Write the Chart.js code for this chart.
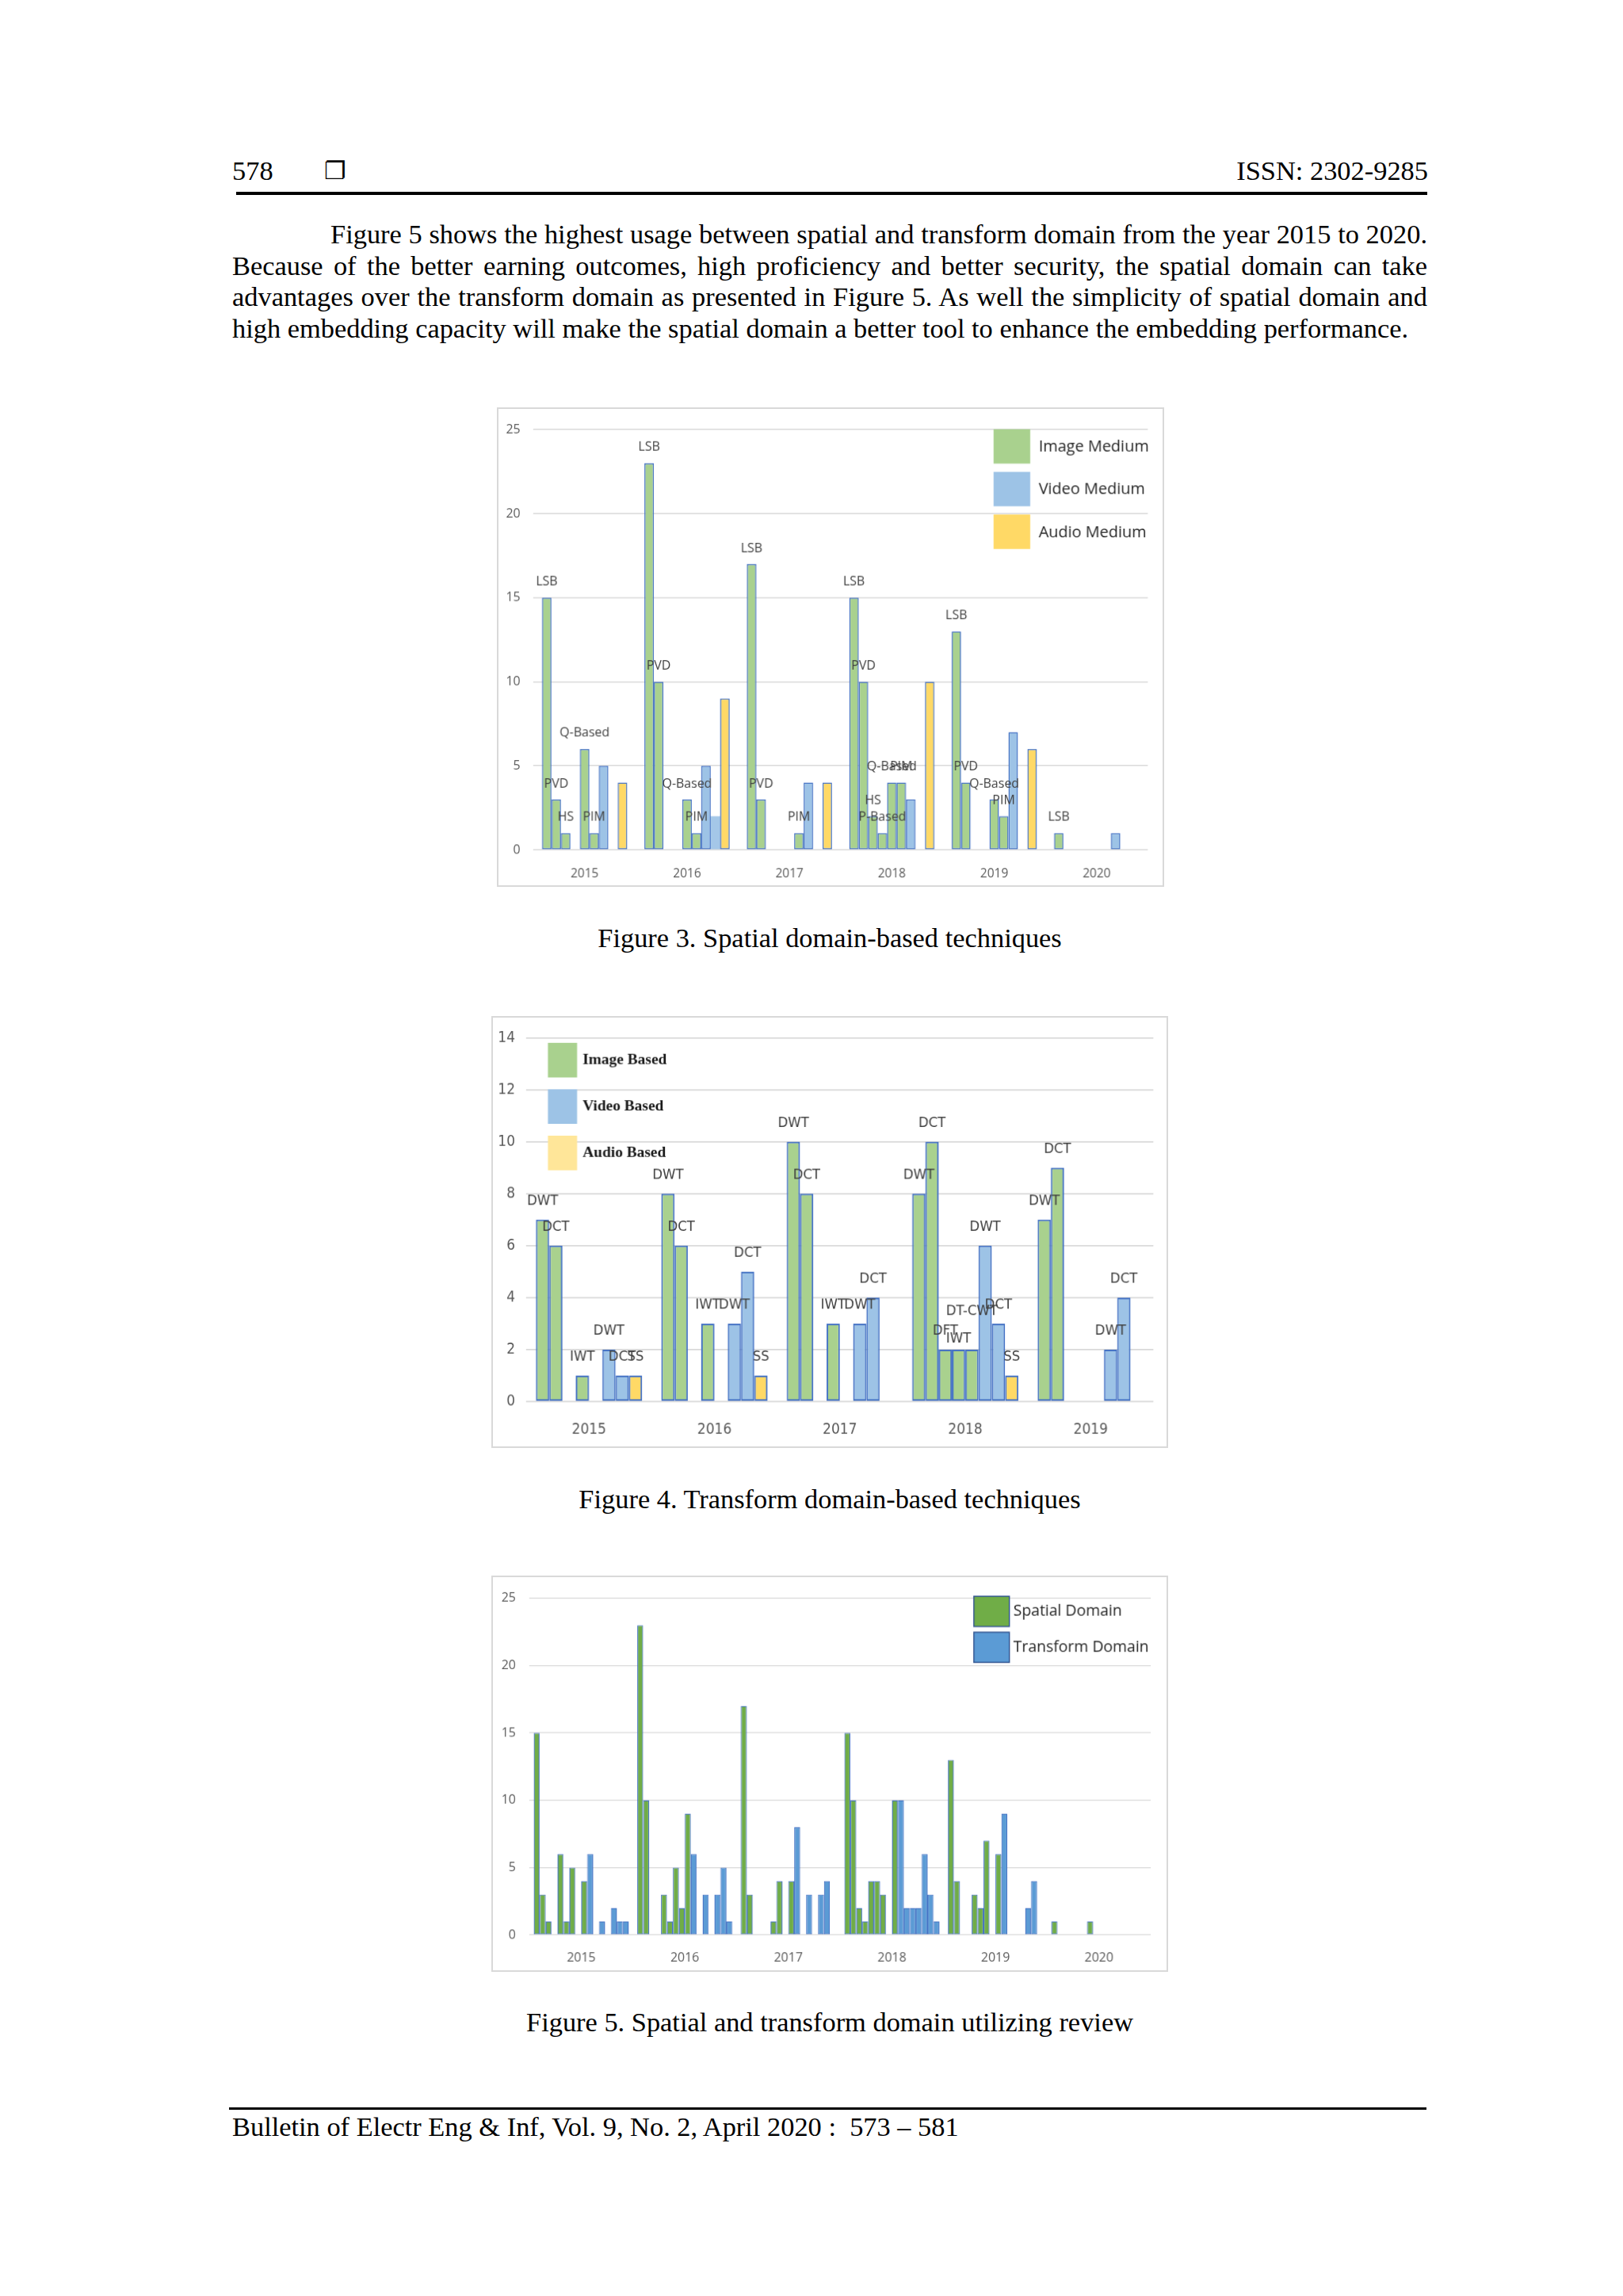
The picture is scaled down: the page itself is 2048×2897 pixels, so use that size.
<!DOCTYPE html>
<html>
<head>
<meta charset="utf-8">
<script src="https://cdn.jsdelivr.net/npm/chart.js@4.4.1/dist/chart.umd.min.js"></script>
<style>
html,body{margin:0;padding:0;background:#fff;}
body{width:2048px;height:2897px;position:relative;overflow:hidden;}
.t{position:absolute;font-family:'Liberation Serif','Times New Roman',serif;font-size:34.4px;line-height:34.4px;white-space:nowrap;color:#000;}
.j{text-align:justify;text-align-last:justify;}
.c{text-align:center;}
.rule{position:absolute;background:#000;}
canvas.fig{position:absolute;border:2px solid #d9d9d9;}
</style>
</head>
<body>
<div class="t" style="left:293px;top:198px;">578</div>
<div class="t" style="left:409px;top:200px;font-family:'DejaVu Sans',sans-serif;font-size:31px;line-height:31px;font-weight:bold;">❐</div>
<div class="t" style="right:246px;top:198px;text-align:right;">ISSN: 2302-9285</div>
<div class="rule" style="left:298px;top:242px;width:1503px;height:4px;"></div>

<div class="t j" style="left:417px;top:278px;width:1384px;">Figure 5 shows the highest usage between spatial and transform domain from the year 2015 to 2020.</div>
<div class="t j" style="left:293px;top:318px;width:1508px;">Because of the better earning outcomes, high proficiency and better security, the spatial domain can take</div>
<div class="t j" style="left:293px;top:357px;width:1508px;">advantages over the transform domain as presented in Figure 5. As well the simplicity of spatial domain and</div>
<div class="t" style="left:293px;top:397px;">high embedding capacity will make the spatial domain a better tool to enhance the embedding performance.</div>

<canvas id="fig3" class="fig" width="842" height="605" style="left:627px;top:514px;"></canvas>
<div class="t c" style="left:293px;top:1166px;width:1508px;">Figure 3. Spatial domain-based techniques</div>

<canvas id="fig4" class="fig" width="854" height="545" style="left:620px;top:1282px;"></canvas>
<div class="t c" style="left:293px;top:1874px;width:1508px;">Figure 4. Transform domain-based techniques</div>

<canvas id="fig5" class="fig" width="854" height="500" style="left:620px;top:1988px;"></canvas>
<div class="t c" style="left:293px;top:2534px;width:1508px;">Figure 5. Spatial and transform domain utilizing review</div>

<div class="rule" style="left:289px;top:2659px;width:1511px;height:3px;"></div>
<div class="t" style="left:293px;top:2666px;white-space:pre;">Bulletin of Electr Eng &amp; Inf, Vol. 9, No. 2, April 2020 :  573 – 581</div>

<script>
// ---------------- Figure 3 data ----------------
const fig3Years  = ['2015', '2016', '2017', '2018', '2019', '2020'];
const fig3Media  = ['Image Medium', 'Video Medium', 'Audio Medium'];
const fig3YTicks = [0, 5, 10, 15, 20, 25];
const imgLSB     = [15, 23, 17, 15, 13, 1];
const imgPVD     = [3, 10, 3, 10, 4, null];
const imgHS      = [1, null, null, 2, null, null];
const imgPBased  = [null, null, null, 1, null, null];
const imgQBased  = [6, 3, null, 4, 3, null];
const imgPIM     = [1, 1, 1, 4, 2, null];
const vidA       = [5, 5, 4, 3, 7, 1];
const vidB       = [null, 2, null, null, null, null];
const audA       = [4, 9, 4, 10, 6, null];

// ---------------- Figure 4 data ----------------
const fig4Years  = ['2015', '2016', '2017', '2018', '2019'];
const fig4Media  = ['Image Based', 'Video Based', 'Audio Based'];
const fig4YTicks = [0, 2, 4, 6, 8, 10, 12, 14];
const tImgDWT    = [7, 8, 10, 8, 7];
const tImgDCT    = [6, 6, 8, 10, 9];
const tImgDFT    = [null, null, null, 2, null];
const tImgIWT    = [1, 3, 3, 2, null];
const tImgDTCWT  = [null, null, null, 2, null];
const tVidDWT    = [2, 3, 3, 6, 2];
const tVidDCT    = [1, 5, 4, 3, 4];
const tAudSS     = [1, 1, null, 1, null];

// ---------------- Figure 5 data ----------------
const fig5Years   = ['2015', '2016', '2017', '2018', '2019', '2020'];
const fig5Domains = ['Spatial Domain', 'Transform Domain'];
const fig5YTicks  = [0, 5, 10, 15, 20, 25];
const spLSB    = [15, 23, 17, 15, 13, 1];
const spPVD    = [3, 10, 3, 10, 4, null];
const spHS     = [1, null, null, 2, null, null];
const spPBased = [null, null, null, 1, null, null];
const spQBased = [6, 3, null, 4, 3, null];
const spPIM    = [1, 1, 1, 4, 2, null];
const spVidA   = [5, 5, 4, 3, 7, 1];
const spVidB   = [null, 2, null, null, null, null];
const spAud    = [4, 9, 4, 10, 6, null];
const trDCT    = [6, 6, 8, 10, 9, null];
const trDFT    = [null, null, null, 2, null, null];
const trIWT    = [1, 3, 3, 2, null, null];
const trDTCWT  = [null, null, null, 2, null, null];
const trVidDWT = [2, 3, 3, 6, 2, null];
const trVidDCT = [1, 5, 4, 3, 4, null];
const trAudSS  = [1, 1, null, 1, null, null];

// ---------------- styles ----------------
const BORDER = '#4472C4';
const LGREEN = '#A9D18E', LBLUE = '#9DC3E6', LYELLOW = '#FFD966';
const DGREEN = '#70AD47', DBLUE = '#5B9BD5';
const GRID = '#D9D9D9', TICK = '#595959';
const SANS = "'Open Sans','Liberation Sans',sans-serif";
const NARROW = "'Liberation Sans Narrow','DejaVu Sans Condensed','Liberation Sans',sans-serif";
const fig4TagNudge = { 'IWT': [0, 0, 0, -10, 0], 'DT-CWT': [0, 0, 0, 25, 0] };

function tagPlugin(font, color, offset) {
  return {
    id: 'barTags',
    afterDatasetsDraw(chart) {
      const ctx = chart.ctx;
      ctx.save();
      ctx.font = font;
      ctx.fillStyle = color;
      ctx.textAlign = 'center';
      ctx.textBaseline = 'middle';
      chart.data.datasets.forEach((d, di) => {
        if (!d.tag) return;
        const meta = chart.getDatasetMeta(di);
        meta.data.forEach((el, i) => {
          if (d.data[i] == null) return;
          const n = d.tagNudge ? d.tagNudge[i] : 0;
          ctx.fillText(d.tag, el.x, el.y - offset - n);
        });
      });
      ctx.restore();
    }
  };
}

function legendPlugin(items, L) {
  return {
    id: 'boxLegend',
    afterDraw(chart) {
      const ctx = chart.ctx;
      ctx.save();
      items.forEach((it, i) => {
        const y = L.y + i * L.pitch;
        ctx.fillStyle = it.fill;
        ctx.fillRect(L.x, y, L.w, L.h);
        if (L.stroke) {
          ctx.lineWidth = L.strokeWidth;
          ctx.strokeStyle = L.stroke;
          ctx.strokeRect(L.x, y, L.w, L.h);
        }
        ctx.font = L.font;
        ctx.fillStyle = L.color;
        ctx.textAlign = 'left';
        ctx.textBaseline = 'middle';
        ctx.fillText(it.text, L.x + L.w + L.gap, y + L.h / 2 + (L.dy || 0));
      });
      ctx.restore();
    }
  };
}

function bars(tag, data, fill, common, extra) {
  return Object.assign({ label: tag, tag: tag, data: data, backgroundColor: fill }, common, extra || {});
}

function scales(cfg) {
  return {
    x: {
      type: 'category',
      offset: true,
      grid: { display: false },
      border: { display: false },
      ticks: { color: TICK, font: { family: cfg.family, size: cfg.xSize }, padding: cfg.xPad, maxRotation: 0, autoSkip: false },
      afterFit: (s) => { s.height = cfg.xHeight; }
    },
    y: {
      min: 0, max: cfg.max,
      grid: { color: GRID, lineWidth: cfg.gridW, drawTicks: false },
      border: { display: false },
      ticks: { color: TICK, font: { family: cfg.family, size: cfg.ySize }, padding: cfg.yPad },
      afterBuildTicks: (s) => { s.ticks = cfg.yTicks.map(v => ({ value: v })); },
      afterFit: (s) => { s.width = cfg.yWidth; }
    }
  };
}

const baseOpts = { responsive: false, animation: false, devicePixelRatio: 1, events: [] };

// ---------------- Figure 3 ----------------
const c3 = { borderColor: BORDER, borderWidth: 1.5, borderSkipped: false, categoryPercentage: 0.832, barPercentage: 1 };
new Chart(document.getElementById('fig3'), {
  type: 'bar',
  data: {
    labels: fig3Years,
    datasets: [
      bars('LSB', imgLSB, LGREEN, c3),
      bars('PVD', imgPVD, LGREEN, c3),
      bars('HS', imgHS, LGREEN, c3),
      bars('P-Based', imgPBased, LGREEN, c3),
      bars('Q-Based', imgQBased, LGREEN, c3),
      bars('PIM', imgPIM, LGREEN, c3),
      bars('Video A', vidA, LBLUE, c3, { tag: null }),
      bars('Video B', vidB, '#A4C7E8', c3, { tag: null, borderWidth: 0 }),
      bars('Audio A', audA, LYELLOW, c3, { tag: null })
    ]
  },
  options: Object.assign({}, baseOpts, {
    layout: { padding: { left: 0, right: 18.7, top: 19, bottom: 0 } },
    plugins: { legend: { display: false }, tooltip: { enabled: false } },
    scales: scales({ family: SANS, xSize: 15.5, ySize: 16, xPad: 13.5, yPad: 16.6, xHeight: 45, yWidth: 44.3, max: 25, yTicks: fig3YTicks, gridW: 1.5 })
  }),
  plugins: [
    tagPlugin("16px " + SANS, '#404040', 20),
    legendPlugin([
      { text: fig3Media[0], fill: LGREEN },
      { text: fig3Media[1], fill: LBLUE },
      { text: fig3Media[2], fill: LYELLOW }
    ], { x: 627.7, y: 25.7, w: 46.5, h: 43.7, pitch: 54.2, gap: 10.7, font: "20px " + SANS, color: '#262626', dy: 1 })
  ]
});

// ---------------- Figure 4 ----------------
const c4 = { borderColor: BORDER, borderWidth: 2, borderSkipped: false, categoryPercentage: 0.847, barPercentage: 1 };
new Chart(document.getElementById('fig4'), {
  type: 'bar',
  data: {
    labels: fig4Years,
    datasets: [
      bars('DWT', tImgDWT, LGREEN, c4),
      bars('DCT', tImgDCT, LGREEN, c4),
      bars('DFT', tImgDFT, LGREEN, c4),
      bars('IWT', tImgIWT, LGREEN, c4, { tagNudge: fig4TagNudge['IWT'] }),
      bars('DT-CWT', tImgDTCWT, LGREEN, c4, { tagNudge: fig4TagNudge['DT-CWT'] }),
      bars('DWT', tVidDWT, LBLUE, c4),
      bars('DCT', tVidDCT, LBLUE, c4),
      bars('SS', tAudSS, LYELLOW, c4)
    ]
  },
  options: Object.assign({}, baseOpts, {
    layout: { padding: { left: 0, right: 16.7, top: 24, bottom: 0 } },
    plugins: { legend: { display: false }, tooltip: { enabled: false } },
    scales: scales({ family: NARROW, xSize: 19, ySize: 19, xPad: 16.6, yPad: 14.3, xHeight: 57, yWidth: 42.3, max: 14, yTicks: fig4YTicks, gridW: 1.8 })
  }),
  plugins: [
    tagPlugin("18.5px " + NARROW, '#404040', 24),
    legendPlugin([
      { text: fig4Media[0], fill: LGREEN },
      { text: fig4Media[1], fill: LBLUE },
      { text: fig4Media[2], fill: '#FFE699' }
    ], { x: 69.7, y: 32, w: 37, h: 44, pitch: 59, gap: 7, font: "bold 19.5px 'Liberation Serif',serif", color: '#1a1a1a', dy: 0 })
  ]
});

// ---------------- Figure 5 ----------------
const c5 = { borderColor: BORDER, borderWidth: 1.2, borderSkipped: false, categoryPercentage: 0.918, barPercentage: 1 };
const g5 = (d) => bars('Spatial', d, DGREEN, c5, { tag: null });
const b5 = (d) => bars('Transform', d, DBLUE, c5, { tag: null });
new Chart(document.getElementById('fig5'), {
  type: 'bar',
  data: {
    labels: fig5Years,
    datasets: [
      g5(spLSB), g5(spPVD), g5(spHS), g5(spPBased), g5(spQBased), g5(spPIM), g5(spVidA), g5(spVidB), g5(spAud),
      b5(trDCT), b5(trDFT), b5(trIWT), b5(trDTCWT), b5(trVidDWT), b5(trVidDCT), b5(trAudSS)
    ]
  },
  options: Object.assign({}, baseOpts, {
    layout: { padding: { left: 0, right: 20, top: 21, bottom: 0 } },
    plugins: { legend: { display: false }, tooltip: { enabled: false } },
    scales: scales({ family: SANS, xSize: 16, ySize: 16, xPad: 12.1, yPad: 17.3, xHeight: 45, yWidth: 46.3, max: 25, yTicks: fig5YTicks, gridW: 1.3 })
  }),
  plugins: [
    legendPlugin([
      { text: fig5Domains[0], fill: DGREEN },
      { text: fig5Domains[1], fill: DBLUE }
    ], { x: 609.7, y: 24.3, w: 45, h: 38.4, pitch: 45.7, gap: 5, font: "19.5px " + SANS, color: '#262626', stroke: '#2F528F', strokeWidth: 1.5, dy: 0 })
  ]
});

if (document.fonts && document.fonts.ready) {
  document.fonts.ready.then(() => {
    Object.values(Chart.instances).forEach(ch => ch.update('none'));
  });
}
</script>
</body>
</html>
